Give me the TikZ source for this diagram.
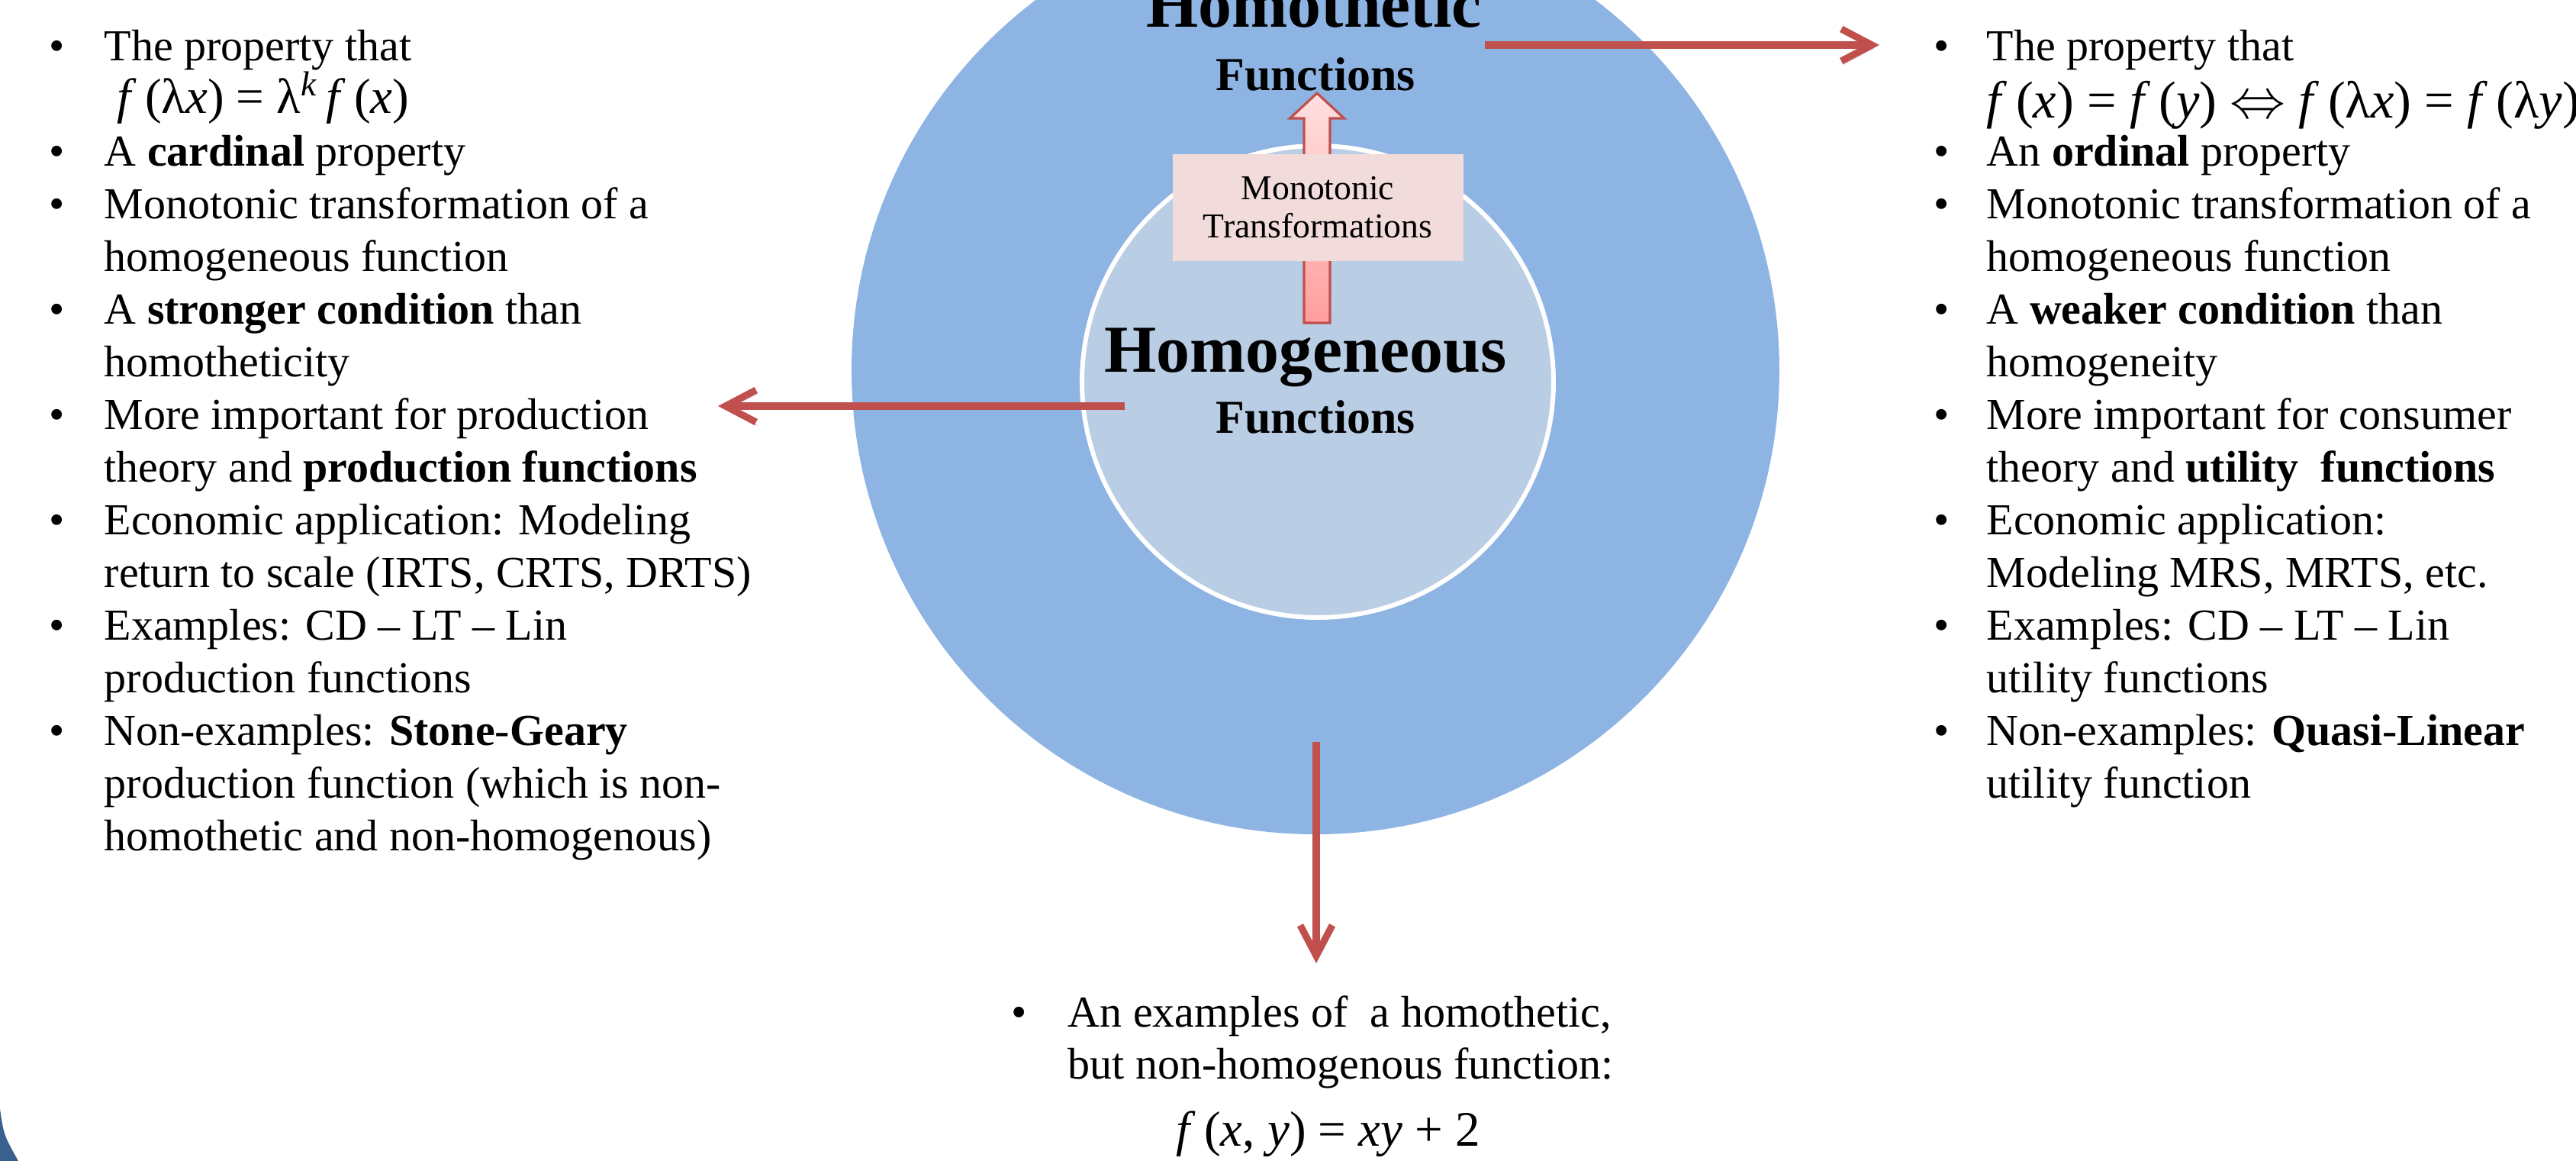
\documentclass[tikz,border=0pt]{standalone}
\usepackage{fontspec}
\setmainfont{Liberation Serif}
\usetikzlibrary{arrows.meta,positioning}

\definecolor{outerblue}{RGB}{142,180,227}
\definecolor{innerblue}{RGB}{185,205,229}
\definecolor{arrowred}{RGB}{192,80,77}
\definecolor{boxpink}{RGB}{242,220,219}
\definecolor{cornerblue}{RGB}{58,96,142}
\definecolor{blocktop}{RGB}{255,224,224}
\definecolor{blockbot}{RGB}{255,158,158}

\newcommand{\bodyfont}{\fontsize{16.5}{19.6}\selectfont}
\newcommand{\titlefont}{\fontsize{25}{30}\selectfont\bfseries}
\newcommand{\subfont}{\fontsize{17.6}{21}\selectfont\bfseries}
\newcommand{\boxfont}{\fontsize{13}{14.2}\selectfont}
\newcommand{\formfont}{\fontsize{18.5}{19.6}\selectfont}
\newcommand{\mv}[1]{\textit{#1}}

\begin{document}
\begin{tikzpicture}[
    redarrow/.style={draw=arrowred, line width=2.6pt,
        -{Straight Barb[length=0.4cm,width=0.42cm]},
        preaction={draw=black, opacity=0.15, transform canvas={shift={(0.02,-0.045)}}}},
    txtline/.style={anchor=base west, inner sep=0pt, font=\bodyfont},
    dotmark/.style={anchor=base, inner sep=0pt, font=\bodyfont},
  ]
    \useasboundingbox (0,0) rectangle (33.76,-15.21);
    \clip (0,0) rectangle (33.76,-15.21);

    % corner piece
    \fill[cornerblue] (0,-14.53) .. controls (0.05,-14.87) .. (0.24,-15.21) -- (0,-15.21) -- cycle;

    % the two sets
    \node[circle, fill=outerblue, minimum size=12.16cm, inner sep=0pt] (outer) at (17.24,-4.85) {};
    \node[circle, fill=innerblue, draw=white, line width=1.7pt, minimum size=6.18cm, inner sep=0pt] (inner) at (17.27,-5.0) {};

    \node[anchor=base, font=\titlefont] (hthtitle) at (17.22,-0.35) {Homothetic};
    \node[anchor=base, font=\subfont] (hthfun) at (17.24,-1.18) {Functions};
    \node[anchor=base, font=\titlefont] (hmgtitle) at (17.11,-4.87) {Homogeneous};
    \node[anchor=base, font=\subfont] (hmgfun) at (17.24,-5.67) {Functions};

    % monotonic transformations
    \draw[draw=arrowred, line width=0.9pt, top color=blocktop, bottom color=blockbot, line join=miter]
        (17.09,-4.23) -- (17.09,-1.55) -- (16.905,-1.55) -- (17.26,-1.22)
        -- (17.615,-1.55) -- (17.43,-1.55) -- (17.43,-4.23) -- cycle;
    \node[fill=boxpink, minimum width=3.81cm, minimum height=1.40cm, inner sep=0pt,
          align=center, font=\boxfont] (monobox) at (17.27,-2.72) {Monotonic\\Transformations};

    % arrows out of the sets
    \coordinate (rtail) at (19.46,-0.59);
    \coordinate (rtip) at (24.63,-0.59);
    \coordinate (ltail) at (14.74,-5.32);
    \coordinate (ltip) at (9.41,-5.32);
    \coordinate (dtail) at (17.25,-9.72);
    \coordinate (dtip) at (17.25,-12.62);
    \draw[redarrow] (rtail) -- (rtip);
    \draw[redarrow] (ltail) -- (ltip);
    \draw[redarrow] (dtail) -- (dtip);

    % left list
    \foreach [count=\i from 0] \t in {
        {The property that},
        {\formfont\hspace{0.17cm}\mv{f}\,(λ\mv{x}) = λ\textsuperscript{\mv{k}}\,\mv{f}\,(\mv{x})},
        {A \textbf{cardinal} property},
        {Monotonic transformation of a},
        {homogeneous function},
        {A \textbf{stronger condition} than},
        {homotheticity},
        {More important for production},
        {theory and \textbf{production functions}},
        {Economic application: Modeling},
        {return to scale (IRTS, CRTS, DRTS)},
        {Examples: CD -- LT -- Lin},
        {production functions},
        {Non-examples: \textbf{Stone}-\textbf{Geary}},
        {production function (which is non-},
        {homothetic and non-homogenous)}}{
        \node[txtline] (L\i) at (1.36,{-0.79-0.69*\i}) {\t};
    }
    \foreach \i in {0,2,3,5,7,9,11,13}
        \node[dotmark] (LB\i) at (0.75,{-0.79-0.69*\i}) {\textbullet};

    % right list
    \foreach [count=\i from 0] \t in {
        {The property that},
        {\raisebox{-0.07cm}{\fontsize{19.5}{19.6}\selectfont\mv{f}\,(\mv{x}) = \mv{f}\,(\mv{y}) $\Leftrightarrow$ \mv{f}\,(λ\mv{x}) = \mv{f}\,(λ\mv{y})}},
        {An \textbf{ordinal} property},
        {Monotonic transformation of a},
        {homogeneous function},
        {A \textbf{weaker condition} than},
        {homogeneity},
        {More important for consumer},
        {theory and \textbf{utility\ \ functions}},
        {Economic application:},
        {Modeling MRS, MRTS,\ etc.},
        {Examples: CD -- LT -- Lin},
        {utility functions},
        {Non-examples: \textbf{Quasi}-\textbf{Linear}},
        {utility function}}{
        \node[txtline] (R\i) at (26.03,{-0.79-0.69*\i}) {\t};
    }
    \foreach \i in {0,2,3,5,7,9,11,13}
        \node[dotmark] (RB\i) at (25.45,{-0.79-0.69*\i}) {\textbullet};

    % bottom note
    \node[dotmark] (BB) at (13.36,-13.45) {\textbullet};
    \node[txtline] (B0) at (13.99,-13.45) {An examples of\ \ a homothetic,};
    \node[txtline] (B1) at (13.99,-14.13) {but non-homogenous function:};
    \node[anchor=base, inner sep=0pt, font=\formfont] (B2) at (17.41,-15.01)
        {\mv{f}\,(\mv{x}, \mv{y}) = \mv{xy} + 2};
\end{tikzpicture}
\end{document}
